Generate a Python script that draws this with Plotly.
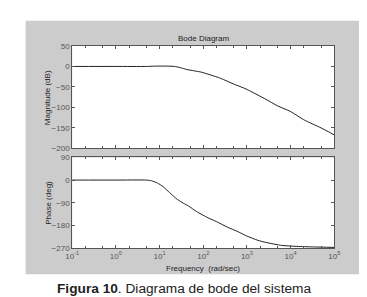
import plotly.graph_objects as go

# ---- data ----
freq_mag = [0.1, 1, 5, 8, 15, 22, 30, 42, 60, 91, 150, 250, 500, 820, 1000,
            2700, 5000, 10000, 20000, 50000, 100000]
mag_db = [0, 0, 0, 0.8, 0.8, 0, -3, -7.5, -10.5, -14, -21, -29, -43, -52, -56,
          -80, -96, -110, -130, -150, -167]

freq_ph = [0.1, 1, 5, 6.6, 9, 12, 17, 25.5, 35, 46, 70, 128, 200, 354, 600, 977,
           1800, 2700, 6300, 14000, 32000, 100000]
phase_deg = [0, 0, 0, -3, -12, -26, -50, -77, -92, -103, -125, -150, -165, -187,
             -204, -222, -240, -248, -260, -264, -266, -268]

x_tickvals = [0.1, 1, 10, 100, 1000, 10000, 100000]
x_ticktext = ["10<sup>-1</sup>", "10<sup>0</sup>", "10<sup>1</sup>", "10<sup>2</sup>",
              "10<sup>3</sup>", "10<sup>4</sup>", "10<sup>5</sup>"]
mag_ticks = [-200, -150, -100, -50, 0, 50]
phase_ticks = [-270, -180, -90, 0, 90]

W, H = 367, 297
def fx(px): return px / W
def fy(py): return 1 - py / H

FONT = "Liberation Sans, Arial, sans-serif"
AX = "#555555"
TXT = "#555555"

fig = go.Figure()
fig.add_trace(go.Scatter(x=freq_mag, y=mag_db, mode="lines",
                         line=dict(color="#222222", width=1, shape="spline", smoothing=0.6),
                         xaxis="x", yaxis="y", showlegend=False))
fig.add_trace(go.Scatter(x=freq_ph, y=phase_deg, mode="lines",
                         line=dict(color="#222222", width=1, shape="spline", smoothing=0.6),
                         xaxis="x2", yaxis="y2", showlegend=False))

xdom = [fx(59.3), fx(331)]
common_x = dict(type="log", range=[-1, 5], domain=xdom, showline=True, linecolor=AX,
                linewidth=1, mirror="ticks", ticks="inside", ticklen=3, tickcolor=AX,
                showgrid=False, zeroline=False, tickvals=x_tickvals,
                minor=dict(ticks="inside", ticklen=2, tickcolor=AX, showgrid=False),
                tickfont=dict(family=FONT, size=8, color=TXT))
common_y = dict(showline=True, linecolor=AX, linewidth=1, mirror="ticks", ticks="inside",
                ticklen=3, tickcolor=AX, showgrid=False, zeroline=False,
                tickfont=dict(family=FONT, size=8, color=TXT))

fig.update_layout(
    width=W, height=H,
    margin=dict(l=0, r=0, t=0, b=0),
    paper_bgcolor="white",
    plot_bgcolor="white",
    xaxis=dict(common_x, anchor="y", showticklabels=False),
    yaxis=dict(common_y, domain=[fy(140.7), fy(35)], range=[-200, 50],
               tickvals=mag_ticks, anchor="x"),
    xaxis2=dict(common_x, anchor="y2", ticktext=x_ticktext, showticklabels=True),
    yaxis2=dict(common_y, domain=[fy(243.3), fy(150)], range=[-270, 90],
                tickvals=phase_ticks, anchor="x2"),
    shapes=[
        dict(type="rect", xref="paper", yref="paper", x0=fx(11), x1=fx(357),
             y0=fy(270.5), y1=fy(9), fillcolor="#cccccc", line=dict(width=0),
             layer="below"),
        dict(type="rect", xref="paper", yref="paper", x0=xdom[0], x1=xdom[1],
             y0=fy(140.7), y1=fy(35), fillcolor="white", line=dict(width=0),
             layer="below"),
        dict(type="rect", xref="paper", yref="paper", x0=xdom[0], x1=xdom[1],
             y0=fy(243.3), y1=fy(150), fillcolor="white", line=dict(width=0),
             layer="below"),
    ],
    annotations=[
        dict(text="Bode Diagram", x=fx(195), y=fy(27), xref="paper", yref="paper",
             showarrow=False, font=dict(family=FONT, size=8, color="#222222"),
             xanchor="center", yanchor="middle"),
        dict(text="Magnitude (dB)", x=fx(34), y=fy(88), xref="paper", yref="paper",
             showarrow=False, textangle=-90, font=dict(family=FONT, size=8, color="#222222"),
             xanchor="center", yanchor="middle"),
        dict(text="Phase (deg)", x=fx(34), y=fy(197), xref="paper", yref="paper",
             showarrow=False, textangle=-90, font=dict(family=FONT, size=8, color="#222222"),
             xanchor="center", yanchor="middle"),
        dict(text="Frequency  (rad/sec)", x=fx(195), y=fy(265), xref="paper", yref="paper",
             showarrow=False, font=dict(family=FONT, size=8, color="#222222"),
             xanchor="center", yanchor="middle"),
        dict(text="<b>Figura 10</b>. Diagrama de bode del sistema", x=fx(175), y=fy(285),
             xref="paper", yref="paper", showarrow=False,
             font=dict(family=FONT, size=13.7, color="#222222"),
             xanchor="center", yanchor="middle"),
    ],
)

fig.write_html("out.html")
